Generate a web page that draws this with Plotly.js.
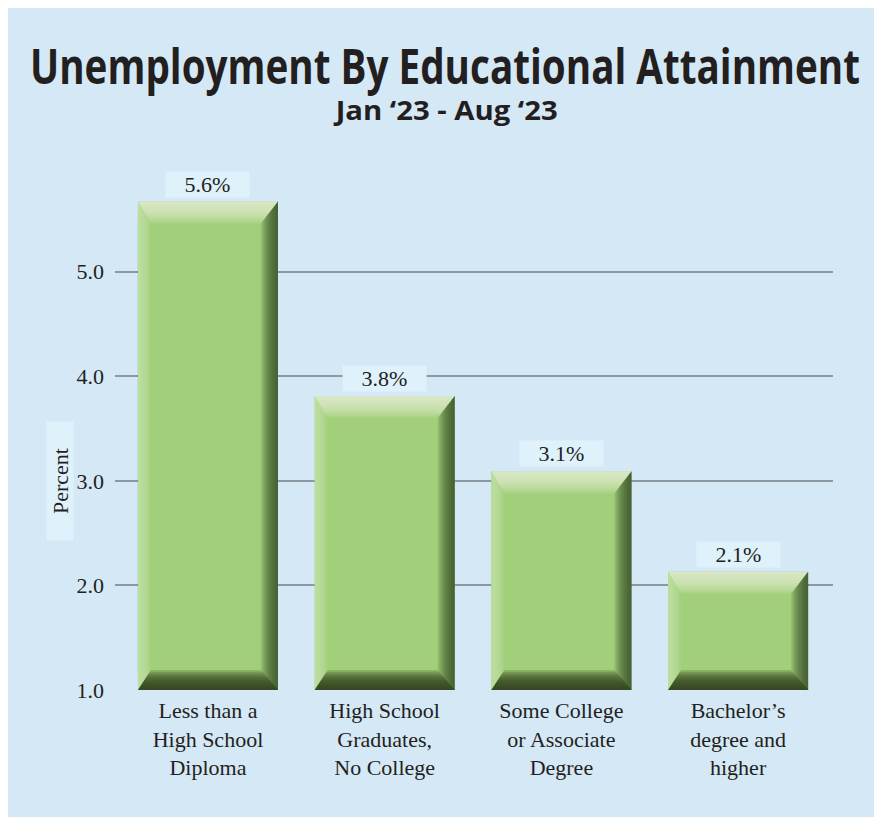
<!DOCTYPE html>
<html>
<head>
<meta charset="utf-8">
<script src="https://cdn.plot.ly/plotly-3.0.1.min.js"></script>
<style>
  html, body { margin: 0; padding: 0; background: #ffffff; }
  #chart { position: absolute; left: 8px; top: 8px; width: 866px; height: 809px; }
</style>
</head>
<body>
<div id="chart"></div>
<script>
// ---- data ----
const categories = [
  'Less than a<br>High School<br>Diploma',
  'High School<br>Graduates,<br>No College',
  'Some College<br>or Associate<br>Degree',
  'Bachelor\u2019s<br>degree and<br>higher'
];
const rates = [5.67, 3.81, 3.09, 2.13];          // bar heights
const rateLabels = ['5.6%', '3.8%', '3.1%', '2.1%']; // printed value labels
const yTickVals = [1, 2, 3, 4, 5];
const yTickText = ['1.0', '2.0', '3.0', '4.0', '5.0'];
const titleText = 'Unemployment By Educational Attainment';
const subtitleText = 'Jan \u201823 - Aug \u201823';

// ---- layout constants ----
const W = 866, H = 809;
const M = { l: 107, r: 41, t: 180, b: 127 };
const xRange = [-0.526, 3.537];
const yRange = [1, 5.8];
const bargap = 0.208;
const panel = '#d5e8f6';
const labelBox = '#dff1fb';
const serif = '"Liberation Serif", "Times New Roman", serif';
const sans = '"Open Sans", "Noto Sans", "Liberation Sans", Arial, sans-serif';

const plotW = W - M.l - M.r, plotH = H - M.t - M.b;
const pxPerX = plotW / (xRange[1] - xRange[0]);
const pxPerY = plotH / (yRange[1] - yRange[0]);

// ---- bevel shapes built from the data ----
const shapes = [];
function poly(pts, color, op) {
  const d = 'M ' + pts.map(p => p[0] + ',' + p[1]).join(' L ') + ' Z';
  shapes.push({ type: 'path', xref: 'x', yref: 'y', path: d, fillcolor: color,
    opacity: op, line: { width: 0 }, layer: 'above' });
}
const bw = 1 - bargap;
const bevel = { top: 22, left: 13, right: 17, bottom: 20 };
const nLayers = 12;
rates.forEach((v, i) => {
  const x0 = i - bw / 2, x1 = i + bw / 2, y0 = yRange[0], y1 = v;
  for (let k = nLayers; k >= 1; k--) {
    const f = k / nLayers;
    const dt = bevel.top * f / pxPerY, db = bevel.bottom * f / pxPerY;
    const dl = bevel.left * f / pxPerX, dr = bevel.right * f / pxPerX;
    poly([[x0, y1], [x1, y1], [x1 - dr, y1 - dt], [x0 + dl, y1 - dt]], '#e4f2d8', 0.13);
    poly([[x0, y1], [x0 + dl, y1 - dt], [x0 + dl, y0 + db], [x0, y0]], '#c6e4ac', 0.12);
    poly([[x1, y1], [x1, y0], [x1 - dr, y0 + db], [x1 - dr, y1 - dt]], '#364a25', 0.13);
    poly([[x0, y0], [x1, y0], [x1 - dr, y0 + db], [x0 + dl, y0 + db]], '#323f1e', 0.2);
  }
});

// ---- annotations ----
const annotations = rates.map((v, i) => ({
  xref: 'x', yref: 'y', x: categories[i], y: v, yanchor: 'bottom', yshift: 4,
  text: rateLabels[i], showarrow: false, bgcolor: labelBox, width: 81, height: 23,
  borderpad: 1, font: { family: serif, size: 22, color: '#231f20' }
}));
annotations.push({
  xref: 'paper', yref: 'paper', x: (38 - M.l) / plotW, y: (H - M.b - 473) / plotH,
  text: 'Percent', textangle: -90, showarrow: false, bgcolor: labelBox,
  width: 116, height: 24, font: { family: serif, size: 22, color: '#231f20' }
});
annotations.push({
  xref: 'paper', yref: 'paper', x: (445 - 8 - M.l) / plotW,
  y: 1 + 78 / plotH, yanchor: 'middle',
  text: subtitleText, showarrow: false, name: 'subtitle',
  font: { family: sans, size: 26, weight: 700, color: '#231f20' }
});

const trace = {
  type: 'bar', x: categories, y: rates.map(v => v - yRange[0]), base: yRange[0],
  marker: { color: '#a2cf79', line: { width: 0 } },
  hoverinfo: 'skip', showlegend: false
};

const layout = {
  width: W, height: H, margin: M,
  paper_bgcolor: panel, plot_bgcolor: panel,
  bargap: bargap,
  title: {
    text: titleText,
    x: (445 - 8) / W, xref: 'container', xanchor: 'center',
    y: 1 - 59 / H, yref: 'container', yanchor: 'middle',
    font: { family: sans, size: 48, weight: 700, color: '#231f20' }
  },
  xaxis: {
    type: 'category', range: xRange, showgrid: false, zeroline: false, showline: false,
    ticks: '', ticklabelstandoff: 5,
    tickfont: { family: serif, size: 22, color: '#231f20' }
  },
  yaxis: {
    range: yRange, tickvals: yTickVals, ticktext: yTickText, showgrid: true,
    gridcolor: '#8e999f', gridwidth: 2, zeroline: false, showline: false,
    ticks: '', ticklabelstandoff: 10,
    tickfont: { family: serif, size: 22, color: '#231f20' }
  },
  shapes: shapes,
  annotations: annotations
};

function squeeze(el, len) {
  if (!el) return;
  el.setAttribute('textLength', len);
  el.setAttribute('lengthAdjust', 'spacingAndGlyphs');
}
Plotly.newPlot('chart', [trace], layout, { displayModeBar: false, staticPlot: true }).then(gd => {
  squeeze(gd.querySelector('.gtitle'), 830);
  gd.querySelectorAll('.annotation-text').forEach(t => {
    if (t.textContent === subtitleText) squeeze(t, 222);
  });
});
</script>
</body>
</html>
